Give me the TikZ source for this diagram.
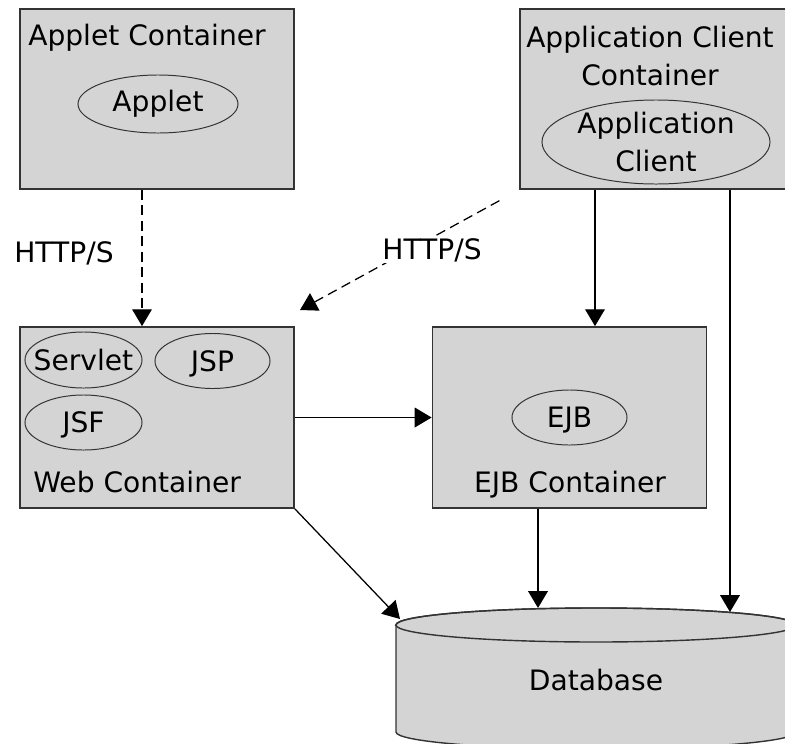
\documentclass[tikz,border=0pt]{standalone}
\usepackage{fontspec}
\setmainfont{DejaVu Sans}
\usetikzlibrary{shapes.geometric,arrows.meta}
\definecolor{boxgray}{HTML}{D4D4D4}
\definecolor{edgegray}{HTML}{333333}

\begin{document}
\begin{tikzpicture}[x=0.025cm,y=-0.025cm,
        font=\fontsize{20}{27}\selectfont,
        container/.style={draw=edgegray,line width=1.2pt,fill=boxgray,inner sep=0pt},
        part/.style={ellipse,draw=edgegray,line width=0.7pt,inner sep=0pt},
        tip/.style={-{Triangle[length=12pt,width=14pt]},line width=0.9pt},
        httpline/.style={tip,dash pattern=on 7pt off 4pt}]
        \useasboundingbox (0,0) rectangle (785,744);

        % Containers
        \node[container,minimum width=6.85cm,minimum height=4.5cm] (appletc) at (157,99) {};
        \node[container,minimum width=6.75cm,minimum height=4.5cm] (clientc) at (655,99) {};
        \node[container,minimum width=6.85cm,minimum height=4.525cm] (webc) at (157,417.5) {};
        \node[container,minimum width=6.85cm,minimum height=4.525cm] (ejbc) at (569.5,417.5) {};

        % Database
        \draw[draw=edgegray,line width=1pt,fill=boxgray] (396,625) -- (396,732)
            arc[start angle=180,end angle=360,x radius=5cm,y radius=0.425cm] -- (796,625)
            arc[start angle=0,end angle=180,x radius=5cm,y radius=0.425cm] -- cycle;
        \draw[draw=edgegray,line width=1pt] (596,625) ellipse[x radius=5cm,y radius=0.425cm];
        \node (db) at (596,680) {Database};
        \coordinate (dbl) at (400,619);
        \coordinate (dbm) at (538,608);
        \coordinate (dbr) at (730,612);

        % Pieces
        \node[anchor=base west,inner sep=0pt] (applettitle) at (28,45) {Applet Container};
        \node[part,minimum width=4cm,minimum height=1.45cm,label=center:Applet] (applet) at (158,104) {};
        \node[align=center,inner sep=0pt] (clienttitle) at (650,56) {Application Client\\Container};
        \node[part,minimum width=5.7cm,minimum height=2.1cm,label={[align=center]center:Application\\Client}] (client) at (656,142) {};
        \node[part,minimum width=2.925cm,minimum height=1.4cm,label=center:Servlet] (servlet) at (83.5,360) {};
        \node[part,minimum width=2.875cm,minimum height=1.375cm,label={[text depth=0pt]center:JSP}] (jsp) at (212.5,361) {};
        \node[part,minimum width=2.925cm,minimum height=1.375cm,label={[text depth=0pt]center:JSF}] (jsf) at (83.5,422.5) {};
        \node[anchor=base west,inner sep=0pt] (webtitle) at (33,492) {Web Container};
        \node[part,minimum width=2.875cm,minimum height=1.375cm,label={[text depth=0pt]center:EJB}] (ejb) at (569.5,417.5) {};
        \node[anchor=base,inner sep=0pt] (ejbtitle) at (570,492) {EJB Container};

        % Arrows
        \coordinate (appletx) at (142,0);
        \coordinate (clientx) at (595,0);
        \coordinate (webtop) at (300,310);
        \draw[httpline] (appletc.south -| appletx) -- (webc.north -| appletx);
        \draw[httpline,shorten <=16pt] (clientc.south west) -- (webtop);
        \node (http1) at (64,253) {HTTP/S};
        \node[fill=white,inner sep=1pt] (http2) at (432,250) {HTTP/S};
        \draw[tip] (clientc.south -| clientx) -- (ejbc.north -| clientx);
        \draw[tip] (clientc.south -| dbr) -- (dbr);
        \draw[tip] (webc.east) -- (ejbc.west);
        \draw[tip] (ejbc.south -| dbm) -- (dbm);
        \draw[tip] (webc.south east) -- (dbl);
    \end{tikzpicture}
\end{document}
